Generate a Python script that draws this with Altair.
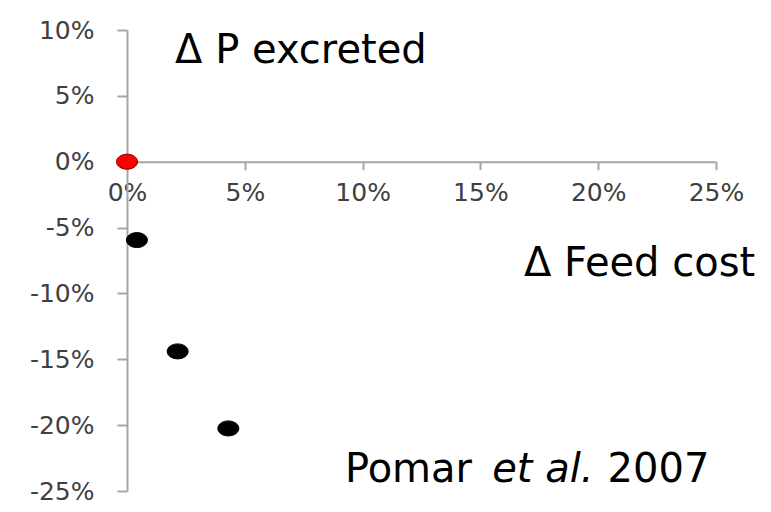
import altair as alt
import pandas as pd

# Data (percent units)
feed_cost = [0.0, 0.42, 2.15, 4.3]
p_excreted = [0.0, -5.95, -14.4, -20.25]
group = ["baseline", "diet", "diet", "diet"]

x_ticks = [0, 5, 10, 15, 20, 25]
y_ticks = [-25, -20, -15, -10, -5, 0, 5, 10]

ann_text = ["\u0394 P excreted", "\u0394 Feed cost", "Pomar", "et al.", "2007"]
ann_x = [2.04, 16.85, 9.25, 15.5, 20.4]
ann_y = [7.5, -8.7, -24.3, -24.3, -24.3]
ann_style = ["normal", "normal", "normal", "italic", "normal"]

pts = pd.DataFrame({"x": feed_cost, "y": p_excreted, "g": group})
ann = pd.DataFrame({"x": ann_x, "y": ann_y, "t": ann_text, "s": ann_style})

ellipse = "M -1 0 A 1 0.714 0 1 0 1 0 A 1 0.714 0 1 0 -1 0 Z"

axis_common = dict(
    title=None,
    grid=False,
    labelFont="DejaVu Sans",
    labelFontSize=25,
    labelColor="#404040",
    domainColor="#a6a6a6",
    domainWidth=2,
    tickColor="#a6a6a6",
    tickWidth=2,
    labelFlush=False,
    labelOverlap=False,
    labelExpr="datum.value + '%'",
)

xscale = alt.Scale(domain=[0, 25], nice=False, zero=False)
yscale = alt.Scale(domain=[-25, 10], nice=False, zero=False)

points = alt.Chart(pts).mark_point(
    shape=ellipse, filled=True, size=441, opacity=1, strokeWidth=1
).encode(
    x=alt.X("x:Q", scale=xscale,
            axis=alt.Axis(values=x_ticks, orient="bottom", offset=-329.3,
                          tickSize=8, labelPadding=11, **axis_common)),
    y=alt.Y("y:Q", scale=yscale,
            axis=alt.Axis(values=y_ticks, orient="left", tickSize=10,
                          labelPadding=23, **axis_common)),
    color=alt.Color("g:N", scale=alt.Scale(domain=["baseline", "diet"],
                                           range=["#ff0000", "#000000"]), legend=None),
    stroke=alt.Stroke("g:N", scale=alt.Scale(domain=["baseline", "diet"],
                                             range=["#7a0000", "#000000"]), legend=None),
)

texts = []
for style in ["normal", "italic"]:
    sub = ann[ann["s"] == style]
    texts.append(
        alt.Chart(sub).mark_text(
            align="left", baseline="alphabetic", font="DejaVu Sans",
            fontSize=40, color="#000000", fontStyle=style
        ).encode(x=alt.X("x:Q", scale=xscale), y=alt.Y("y:Q", scale=yscale), text="t:N")
    )

chart = alt.layer(points, *texts).properties(
    width=589, height=461,
    autosize=alt.AutoSizeParams(type="none"),
    padding={"left": 119, "top": 22, "right": 47, "bottom": 13},
).configure_view(strokeWidth=0)

chart.save("out.html", embed_options={"renderer": "svg", "actions": False})
